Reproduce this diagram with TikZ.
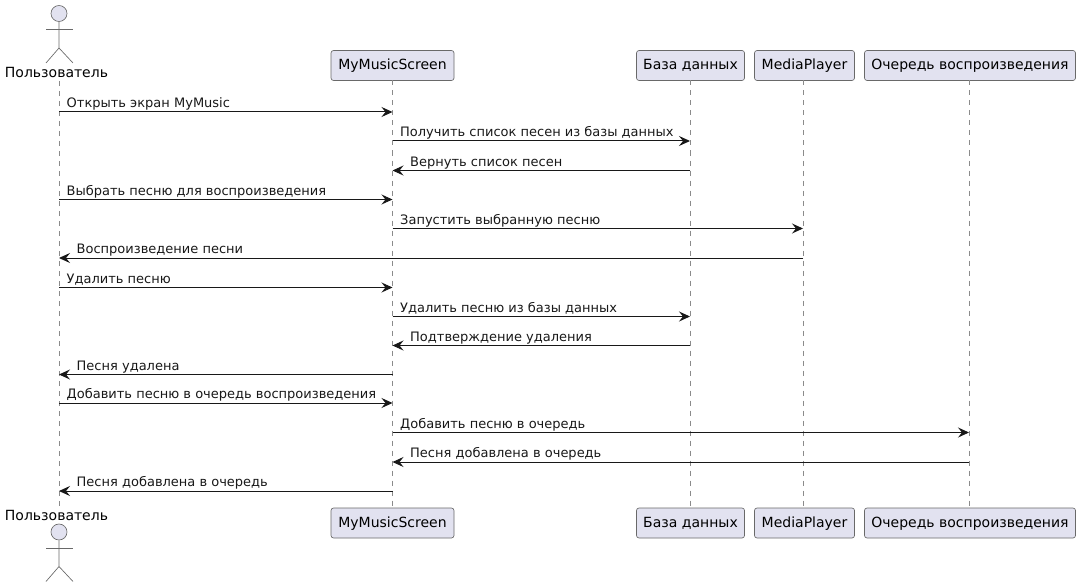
\documentclass[tikz,border=0pt]{standalone}
\usepackage{fontspec}
\setmainfont{DejaVu Sans}
\usetikzlibrary{arrows.meta}
\definecolor{partfill}{HTML}{E2E2F0}
\definecolor{partline}{HTML}{181818}
\newcommand{\px}{0.75pt}
\tikzset{
  partbox/.style={draw=partline!65, fill=partfill, line width=.5pt, rounded corners=1.9pt, inner sep=0pt,
    minimum height=30*\px, text height=8.5pt, text depth=2pt, font=\fontsize{10.5pt}{12pt}\selectfont},
  actorname/.style={inner sep=0pt, text height=8.5pt, text depth=2pt, font=\fontsize{10.5pt}{12pt}\selectfont},
  actorhead/.style={circle, draw=partline!65, fill=partfill, line width=.5pt, inner sep=0pt, minimum size=16*\px},
  actorline/.style={draw=partline!65, line width=.5pt},
  lifeline/.style={draw=partline!50, line width=.5pt, dash pattern=on 3.75pt off 3.75pt},
  msgline/.style={draw=partline, line width=.75pt, -{Stealth[length=11*\px, width=10*\px, inset=4*\px]}},
  msgtext/.style={anchor=base west, inner sep=0pt, text=partline, font=\fontsize{9.75pt}{12pt}\selectfont},
}
\begin{document}
\begin{tikzpicture}[x=\px, y=-\px]

\useasboundingbox (0,0) rectangle (1080,588);

% participants
\node [actorname] (userTop) at (56.5,73.5) {Пользователь};
\node [partbox, minimum width=123*\px] (screenTop) at (392.5,65.5) {MyMusicScreen};
\node [partbox, minimum width=108*\px] (baseTop) at (690.5,65.5) {База данных};
\node [partbox, minimum width=100*\px] (playerTop) at (804.5,65.5) {MediaPlayer};
\node [partbox, minimum width=211*\px] (queueTop) at (970,65.5) {Очередь воспроизведения};

\node [actorname] (userBot) at (56.5,516.5) {Пользователь};
\node [partbox, minimum width=123*\px] (screenBot) at (392.5,523) {MyMusicScreen};
\node [partbox, minimum width=108*\px] (baseBot) at (690.5,523) {База данных};
\node [partbox, minimum width=100*\px] (playerBot) at (804.5,523) {MediaPlayer};
\node [partbox, minimum width=211*\px] (queueBot) at (970,523) {Очередь воспроизведения};

% lifelines
\coordinate (userA) at (59,81);
\coordinate (userB) at (59,508);
\draw [lifeline] (userA) -- (userB);
\draw [lifeline] (392.5,80.5) -- (392.5,508);
\draw [lifeline] (690,80.5) -- (690,508);
\draw [lifeline] (803,80.5) -- (803,508);
\draw [lifeline] (969,80.5) -- (969,508);

% actors
\foreach \nm/\yy in {headTop/13.5, headBot/532} {
  \node [actorhead] (\nm) at (59,\yy) {};
  \draw [actorline] (\nm.south) -- (59,\yy+34.5) -- (46,\yy+49.5);
  \draw [actorline] (59,\yy+34.5) -- (73,\yy+49.5);
  \draw [actorline] (46,\yy+16) -- (73,\yy+16);
}

% one row of points per message
\foreach \row/\yy in {1/112, 2/141, 3/170.5, 4/199.5, 5/228.5, 6/258, 7/287.5, 8/316.5, 9/345.5, 10/374.5, 11/403, 12/432.5, 13/462, 14/491} {
  \coordinate (u\row) at (59,\yy);
  \coordinate (s\row) at (392.5,\yy);
  \coordinate (b\row) at (690,\yy);
  \coordinate (p\row) at (803,\yy);
  \coordinate (q\row) at (969,\yy);
}

% messages
\draw [msgline] (u1) -- (s1) node [msgtext, pos=0, xshift=7.2*\px, yshift=4.2*\px] {Открыть экран MyMusic};
\draw [msgline] (s2) -- (b2) node [msgtext, pos=0, xshift=7.2*\px, yshift=4.2*\px] {Получить список песен из базы данных};
\draw [msgline] (b3) -- (s3) node [msgtext, pos=1, xshift=17.2*\px, yshift=4.2*\px] {Вернуть список песен};
\draw [msgline] (u4) -- (s4) node [msgtext, pos=0, xshift=7.2*\px, yshift=4.2*\px] {Выбрать песню для воспроизведения};
\draw [msgline] (s5) -- (p5) node [msgtext, pos=0, xshift=7.2*\px, yshift=4.2*\px] {Запустить выбранную песню};
\draw [msgline] (p6) -- (u6) node [msgtext, pos=1, xshift=17.2*\px, yshift=4.2*\px] {Воспроизведение песни};
\draw [msgline] (u7) -- (s7) node [msgtext, pos=0, xshift=7.2*\px, yshift=4.2*\px] {Удалить песню};
\draw [msgline] (s8) -- (b8) node [msgtext, pos=0, xshift=7.2*\px, yshift=4.2*\px] {Удалить песню из базы данных};
\draw [msgline] (b9) -- (s9) node [msgtext, pos=1, xshift=17.2*\px, yshift=4.2*\px] {Подтверждение удаления};
\draw [msgline] (s10) -- (u10) node [msgtext, pos=1, xshift=17.2*\px, yshift=4.2*\px] {Песня удалена};
\draw [msgline] (u11) -- (s11) node [msgtext, pos=0, xshift=7.2*\px, yshift=4.2*\px] {Добавить песню в очередь воспроизведения};
\draw [msgline] (s12) -- (q12) node [msgtext, pos=0, xshift=7.2*\px, yshift=4.2*\px] {Добавить песню в очередь};
\draw [msgline] (q13) -- (s13) node [msgtext, pos=1, xshift=17.2*\px, yshift=4.2*\px] {Песня добавлена в очередь};
\draw [msgline] (s14) -- (u14) node [msgtext, pos=1, xshift=17.2*\px, yshift=4.2*\px] {Песня добавлена в очередь};

\end{tikzpicture}
\end{document}
